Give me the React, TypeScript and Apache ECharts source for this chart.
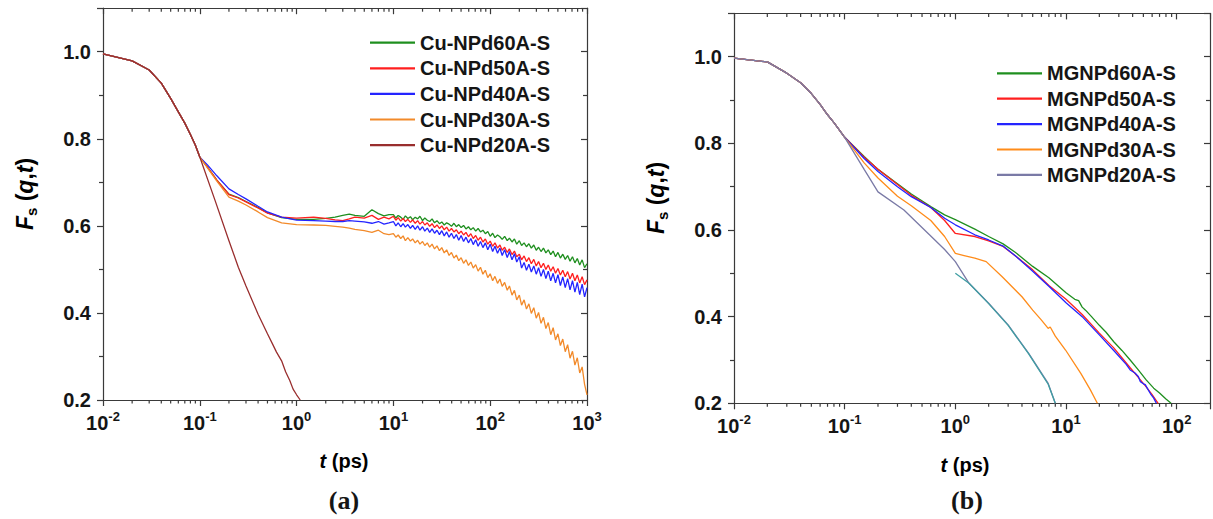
import React, { useEffect, useRef } from "react";
import * as echarts from "echarts";

// ---------- panel (a): Cu-NPd samples ----------
const tHeadA = [0.01, 0.02, 0.03, 0.04, 0.05, 0.06, 0.07, 0.08, 0.09];
const headA = [0.995, 0.979, 0.958, 0.928, 0.893, 0.862, 0.836, 0.81, 0.785];

const tMidA = [0.1, 0.12, 0.15, 0.2, 0.25, 0.3, 0.4, 0.5, 0.7, 1, 1.5, 2, 2.5, 3, 3.5, 4, 5, 6, 7, 8, 9];
const mid60A = [0.758, 0.735, 0.705, 0.673, 0.665, 0.656, 0.642, 0.63, 0.619, 0.615, 0.615, 0.617, 0.62, 0.624, 0.627, 0.624, 0.622, 0.637, 0.628, 0.623, 0.626];
const mid50A = [0.758, 0.735, 0.705, 0.672, 0.664, 0.655, 0.641, 0.629, 0.62, 0.618, 0.62, 0.617, 0.614, 0.612, 0.616, 0.62, 0.618, 0.624, 0.615, 0.62, 0.616];
const mid40A = [0.758, 0.74, 0.715, 0.685, 0.672, 0.662, 0.645, 0.632, 0.62, 0.613, 0.612, 0.611, 0.61, 0.61, 0.612, 0.611, 0.609, 0.606, 0.61, 0.604, 0.607];
const mid30A = [0.758, 0.733, 0.703, 0.666, 0.657, 0.648, 0.632, 0.619, 0.607, 0.603, 0.602, 0.601, 0.599, 0.597, 0.595, 0.592, 0.589, 0.585, 0.59, 0.582, 0.58];

// long-time, noisy part of the four slower curves (10 ps .. 1000 ps)
const tTailA = [10, 10.6, 11.2, 11.9, 12.6, 13.3, 14.1, 15, 15.8, 16.8, 17.8, 18.8, 20, 21.1, 22.4, 23.7, 25.1, 26.6, 28.2, 29.9, 31.6, 33.5, 35.5, 37.6, 39.8, 42.2, 44.7, 47.3, 50.1, 53.1, 56.2, 59.6, 63.1, 66.8, 70.8, 75, 79.4, 84.1, 89.1, 94.4, 100, 106, 112, 119, 126, 133, 141, 150, 158, 168, 178, 188, 200, 211, 224, 237, 251, 266, 282, 299, 316, 335, 355, 376, 398, 422, 447, 473, 501, 531, 562, 596, 631, 668, 708, 750, 794, 841, 891, 944, 1000];
const tail60A = [0.626, 0.618, 0.624, 0.62, 0.615, 0.623, 0.617, 0.621, 0.614, 0.62, 0.616, 0.622, 0.612, 0.618, 0.613, 0.61, 0.616, 0.607, 0.612, 0.605, 0.609, 0.602, 0.607, 0.604, 0.599, 0.606, 0.598, 0.603, 0.596, 0.601, 0.593, 0.598, 0.591, 0.596, 0.588, 0.594, 0.586, 0.59, 0.582, 0.587, 0.576, 0.583, 0.573, 0.579, 0.575, 0.569, 0.576, 0.566, 0.572, 0.563, 0.57, 0.558, 0.566, 0.555, 0.561, 0.552, 0.559, 0.549, 0.556, 0.544, 0.551, 0.541, 0.549, 0.538, 0.545, 0.534, 0.542, 0.529, 0.539, 0.526, 0.535, 0.523, 0.532, 0.519, 0.529, 0.515, 0.525, 0.51, 0.522, 0.504, 0.513];
const tail50A = [0.622, 0.613, 0.619, 0.611, 0.617, 0.61, 0.615, 0.608, 0.614, 0.606, 0.612, 0.604, 0.61, 0.602, 0.607, 0.599, 0.605, 0.596, 0.602, 0.594, 0.6, 0.591, 0.597, 0.588, 0.594, 0.586, 0.591, 0.582, 0.588, 0.579, 0.585, 0.575, 0.582, 0.571, 0.578, 0.567, 0.574, 0.563, 0.57, 0.558, 0.565, 0.553, 0.561, 0.549, 0.556, 0.544, 0.551, 0.539, 0.547, 0.534, 0.542, 0.529, 0.535, 0.522, 0.531, 0.518, 0.527, 0.513, 0.523, 0.508, 0.518, 0.504, 0.514, 0.5, 0.51, 0.496, 0.506, 0.491, 0.502, 0.487, 0.498, 0.483, 0.495, 0.478, 0.491, 0.474, 0.487, 0.469, 0.483, 0.465, 0.476];
const tail40A = [0.61, 0.6, 0.607, 0.598, 0.605, 0.597, 0.603, 0.594, 0.601, 0.592, 0.6, 0.59, 0.598, 0.588, 0.595, 0.585, 0.593, 0.583, 0.59, 0.58, 0.589, 0.577, 0.586, 0.574, 0.583, 0.571, 0.58, 0.567, 0.578, 0.564, 0.574, 0.561, 0.571, 0.557, 0.568, 0.553, 0.564, 0.55, 0.561, 0.545, 0.558, 0.541, 0.553, 0.537, 0.549, 0.532, 0.545, 0.527, 0.541, 0.522, 0.536, 0.517, 0.529, 0.503, 0.516, 0.498, 0.512, 0.494, 0.508, 0.489, 0.504, 0.484, 0.5, 0.479, 0.496, 0.474, 0.491, 0.469, 0.488, 0.463, 0.483, 0.458, 0.479, 0.453, 0.474, 0.448, 0.47, 0.442, 0.466, 0.437, 0.458];
const tail30A = [0.582, 0.574, 0.579, 0.571, 0.577, 0.566, 0.573, 0.565, 0.57, 0.561, 0.567, 0.558, 0.564, 0.555, 0.561, 0.551, 0.558, 0.547, 0.554, 0.543, 0.55, 0.538, 0.545, 0.532, 0.539, 0.526, 0.533, 0.52, 0.527, 0.514, 0.522, 0.509, 0.517, 0.503, 0.511, 0.496, 0.505, 0.489, 0.498, 0.481, 0.49, 0.474, 0.484, 0.468, 0.478, 0.461, 0.47, 0.452, 0.462, 0.441, 0.452, 0.43, 0.441, 0.418, 0.43, 0.409, 0.421, 0.399, 0.412, 0.388, 0.401, 0.376, 0.39, 0.364, 0.378, 0.35, 0.366, 0.338, 0.352, 0.325, 0.34, 0.311, 0.327, 0.296, 0.312, 0.28, 0.297, 0.262, 0.276, 0.236, 0.212];

const t20A = [0.1, 0.144, 0.2, 0.25, 0.3, 0.4, 0.5, 0.56, 0.62, 0.7, 0.77, 0.85, 0.92, 1.0, 1.09];
const v20A = [0.758, 0.658, 0.566, 0.505, 0.462, 0.397, 0.352, 0.33, 0.31, 0.29, 0.265, 0.245, 0.225, 0.212, 0.2];

const namesA = ["Cu-NPd60A-S", "Cu-NPd50A-S", "Cu-NPd40A-S", "Cu-NPd30A-S", "Cu-NPd20A-S"];

// ---------- panel (b): MGNPd samples ----------
const tHeadB = [0.01, 0.02, 0.03, 0.04, 0.05, 0.06, 0.07, 0.08, 0.09, 0.1];
const headB = [0.997, 0.988, 0.962, 0.94, 0.915, 0.89, 0.866, 0.848, 0.83, 0.814];

const tMidB = [0.15, 0.2, 0.3, 0.4, 0.6, 0.8, 1, 1.5, 2, 2.7, 3.5, 5, 7, 10];
const mid60B = [0.77, 0.74, 0.707, 0.683, 0.654, 0.635, 0.624, 0.602, 0.585, 0.568, 0.548, 0.516, 0.49, 0.455];
const mid50B = [0.768, 0.74, 0.705, 0.68, 0.652, 0.622, 0.592, 0.585, 0.575, 0.562, 0.54, 0.508, 0.472, 0.44];
const mid40B = [0.765, 0.735, 0.7, 0.677, 0.652, 0.627, 0.612, 0.589, 0.577, 0.563, 0.54, 0.505, 0.47, 0.432];

const tTail60B = [12, 13, 14, 15, 17, 20, 23, 27, 32, 38, 45, 53, 62, 70, 80, 89];
const tail60B = [0.44, 0.437, 0.422, 0.415, 0.4, 0.38, 0.364, 0.342, 0.322, 0.3, 0.277, 0.254, 0.235, 0.224, 0.21, 0.2];
const tTail50B = [14, 20, 27, 38, 45, 53, 60, 68];
const tail50B = [0.405, 0.362, 0.328, 0.282, 0.26, 0.238, 0.22, 0.2];
const tTail40B = [14, 20, 27, 35, 38, 42, 45, 47, 50, 52, 55, 58, 62, 65.5];
const tail40B = [0.4, 0.358, 0.322, 0.29, 0.277, 0.27, 0.262, 0.25, 0.245, 0.243, 0.232, 0.222, 0.212, 0.2];

const t30B = [0.15, 0.2, 0.3, 0.4, 0.6, 0.8, 1, 1.2, 1.5, 1.9, 2.65, 4, 5, 6, 6.9, 7.2, 8, 9.9, 13.6, 16.6, 19.2];
const v30B = [0.755, 0.72, 0.678, 0.656, 0.622, 0.585, 0.546, 0.541, 0.535, 0.527, 0.492, 0.446, 0.415, 0.392, 0.373, 0.376, 0.355, 0.323, 0.269, 0.231, 0.2];
const t20B = [0.15, 0.2, 0.343, 0.59, 0.8, 1, 1.33, 2, 3, 4.6, 6.9, 8];
const v20B = [0.74, 0.688, 0.646, 0.588, 0.555, 0.527, 0.477, 0.431, 0.381, 0.315, 0.246, 0.2];
const t20BLong = [1, 1.33, 2, 3, 4.6, 6.9, 8];
const v20BLong = [0.5, 0.477, 0.43, 0.38, 0.314, 0.244, 0.2];

const namesB = ["MGNPd60A-S", "MGNPd50A-S", "MGNPd40A-S", "MGNPd30A-S", "MGNPd20A-S"];

// minor log ticks (2..9 within each decade)
const minorA = [0.02, 0.03, 0.04, 0.05, 0.06, 0.07, 0.08, 0.09, 0.2, 0.3, 0.4, 0.5, 0.6, 0.7, 0.8, 0.9, 2, 3, 4, 5, 6, 7, 8, 9, 20, 30, 40, 50, 60, 70, 80, 90, 200, 300, 400, 500, 600, 700, 800, 900];
const minorB = [0.02, 0.03, 0.04, 0.05, 0.06, 0.07, 0.08, 0.09, 0.2, 0.3, 0.4, 0.5, 0.6, 0.7, 0.8, 0.9, 2, 3, 4, 5, 6, 7, 8, 9, 20, 30, 40, 50, 60, 70, 80, 90];

const FONT = '"Liberation Sans", Arial, Helvetica, sans-serif';
const SERIF = '"Liberation Serif", "Times New Roman", serif';
const AXIS = "#3a3a3a";
const TXT = "#151515";

const C = {
  green: "#1f8f1f",
  red: "#ff1f1f",
  blue: "#2424ff",
  orange: "#f28a2a",
  brown: "#992e2e",
  orangeB: "#ff8c1a",
  purple: "#7a7aa6",
  teal: "#3f9ea3",
};

const pairs = (ts: number[], vs: number[]) => ts.map((t, i) => [t, vs[i]]);

const pow10Label = (v: number) => {
  const e = Math.log10(v);
  const r = Math.round(e);
  if (Math.abs(e - r) > 1e-6) return "";
  return `{b|10}{s|${r}}`;
};

const logLabelRich = {
  b: { fontFamily: FONT, fontWeight: "bold" as const, fontSize: 20, color: TXT, lineHeight: 26 },
  s: { fontFamily: FONT, fontWeight: "bold" as const, fontSize: 13, color: TXT, lineHeight: 14, verticalAlign: "top" as const },
};

function xAxes(grid: number, max: number) {
  return [
    {
      type: "log",
      logBase: 10,
      gridIndex: grid,
      position: "bottom",
      min: 0.01,
      max,
      axisLine: { show: true, onZero: false, lineStyle: { color: AXIS, width: 1.2 } },
      axisTick: { show: true, length: 6, lineStyle: { color: AXIS, width: 1.2 } },
      minorTick: { show: false },
      splitLine: { show: false },
      axisLabel: {
        margin: 10,
        formatter: pow10Label,
        rich: logLabelRich,
        showMaxLabel: true,
      },
    },
    {
      type: "log",
      logBase: 10,
      gridIndex: grid,
      position: "top",
      min: 0.01,
      max,
      axisLine: { show: true, onZero: false, lineStyle: { color: AXIS, width: 1.2 } },
      axisTick: { show: true, inside: true, length: 6, lineStyle: { color: AXIS, width: 1.2 } },
      minorTick: { show: false },
      splitLine: { show: false },
      axisLabel: { show: false },
    },
  ];
}

function yAxes(grid: number) {
  const common = {
    type: "value",
    gridIndex: grid,
    min: 0.2,
    max: 1.1,
    interval: 0.2,
    splitLine: { show: false },
    minorSplitLine: { show: false },
  };
  return [
    {
      ...common,
      position: "left",
      axisLine: { show: true, onZero: false, lineStyle: { color: AXIS, width: 1.2 } },
      axisTick: { show: true, length: 6, lineStyle: { color: AXIS, width: 1.2 } },
      minorTick: { show: true, splitNumber: 2, length: 4, lineStyle: { color: AXIS, width: 1.2 } },
      axisLabel: {
        margin: 12,
        showMaxLabel: false,
        formatter: (v: number) => v.toFixed(1),
        fontFamily: FONT,
        fontWeight: "bold",
        fontSize: 20,
        color: TXT,
      },
    },
    {
      ...common,
      position: "right",
      axisLine: { show: true, onZero: false, lineStyle: { color: AXIS, width: 1.2 } },
      axisTick: { show: true, inside: true, length: 6, lineStyle: { color: AXIS, width: 1.2 } },
      minorTick: { show: true, splitNumber: 2, length: 4, lineStyle: { color: AXIS, width: 1.2 } },
      axisLabel: { show: false },
    },
  ];
}

function line(name: string, data: number[][], color: string, xi: number, yi: number) {
  return {
    type: "line",
    name,
    data,
    xAxisIndex: xi,
    yAxisIndex: yi,
    symbol: "none",
    showSymbol: false,
    silent: true,
    clip: true,
    lineStyle: { color, width: 1.3 },
    itemStyle: { color },
  };
}

function minorTicks(vals: number[], xi: number, yi: number) {
  return {
    type: "custom",
    name: "minor-ticks",
    xAxisIndex: xi,
    yAxisIndex: yi,
    silent: true,
    data: vals.map((v) => [v, 0.2]),
    renderItem: (params: any, api: any) => {
      const cs = params.coordSys;
      const p = api.coord([api.value(0), api.value(1)]);
      const bottom = cs.y + cs.height;
      const st = { stroke: AXIS, lineWidth: 1.2 };
      return {
        type: "group",
        children: [
          { type: "line", shape: { x1: p[0], y1: bottom, x2: p[0], y2: bottom + 3.5 }, style: st },
          { type: "line", shape: { x1: p[0], y1: cs.y, x2: p[0], y2: cs.y + 3.5 }, style: st },
        ],
      };
    },
  };
}

const yTitleRich = {
  it: { fontFamily: FONT, fontWeight: "bold" as const, fontStyle: "italic" as const, fontSize: 23, color: TXT, lineHeight: 28 },
  n: { fontFamily: FONT, fontWeight: "bold" as const, fontSize: 23, color: TXT, lineHeight: 28 },
  sub: { fontFamily: FONT, fontWeight: "bold" as const, fontSize: 15, color: TXT, lineHeight: 17, verticalAlign: "bottom" as const },
};
const xTitleRich = {
  it: { fontFamily: FONT, fontWeight: "bold" as const, fontStyle: "italic" as const, fontSize: 20, color: TXT },
  n: { fontFamily: FONT, fontWeight: "bold" as const, fontSize: 20, color: TXT },
};

function legend(names: string[], left: number, top: number, gap: number) {
  return {
    data: names,
    left,
    top,
    padding: 0,
    orient: "vertical",
    icon: "rect",
    itemWidth: 45,
    itemHeight: 2.2,
    itemGap: gap,
    selectedMode: false,
    textStyle: { fontFamily: FONT, fontWeight: "bold", fontSize: 20, color: TXT, lineHeight: 22 },
  };
}

export default function App() {
  const ref = useRef<HTMLDivElement>(null);

  useEffect(() => {
    if (!ref.current) return;
    const chart = echarts.init(ref.current, undefined, { renderer: "svg" });

    const series = [
      line(namesA[0], [...pairs(tHeadA, headA), ...pairs(tMidA, mid60A), ...pairs(tTailA, tail60A)], C.green, 0, 0),
      line(namesA[1], [...pairs(tHeadA, headA), ...pairs(tMidA, mid50A), ...pairs(tTailA, tail50A)], C.red, 0, 0),
      line(namesA[2], [...pairs(tHeadA, headA), ...pairs(tMidA, mid40A), ...pairs(tTailA, tail40A)], C.blue, 0, 0),
      line(namesA[3], [...pairs(tHeadA, headA), ...pairs(tMidA, mid30A), ...pairs(tTailA, tail30A)], C.orange, 0, 0),
      line(namesA[4], [...pairs(tHeadA, headA), ...pairs(t20A, v20A)], C.brown, 0, 0),
      minorTicks(minorA, 0, 0),

      line(namesB[0], [...pairs(tHeadB, headB), ...pairs(tMidB, mid60B), ...pairs(tTail60B, tail60B)], C.green, 2, 2),
      line(namesB[1], [...pairs(tHeadB, headB), ...pairs(tMidB, mid50B), ...pairs(tTail50B, tail50B)], C.red, 2, 2),
      line(namesB[2], [...pairs(tHeadB, headB), ...pairs(tMidB, mid40B), ...pairs(tTail40B, tail40B)], C.blue, 2, 2),
      line(namesB[3], [...pairs(tHeadB, headB), ...pairs(t30B, v30B)], C.orangeB, 2, 2),
      line(namesB[4], [...pairs(tHeadB, headB), ...pairs(t20B, v20B)], C.purple, 2, 2),
      line("MGNPd20A-S long run", pairs(t20BLong, v20BLong), C.teal, 2, 2),
      minorTicks(minorB, 2, 2),
    ];

    chart.setOption({
      animation: false,
      backgroundColor: "#ffffff",
      grid: [
        { left: 103, right: 626, top: 8.2, bottom: 119 },
        { left: 734, right: -5, top: 13.4, bottom: 115.7 },
      ],
      xAxis: [...xAxes(0, 1000), ...xAxes(1, 200)],
      yAxis: [...yAxes(0), ...yAxes(1)],
      legend: [legend(namesA, 370, 31.7, 3.6), legend(namesB, 997, 62.3, 3.4)],
      series,
      graphic: [
        {
          type: "text",
          x: 25,
          y: 194,
          rotation: Math.PI / 2,
          style: { text: "{it|F}{sub|s}{n| (}{it|q}{n|,}{it|t}{n|)}", rich: yTitleRich, align: "center", verticalAlign: "middle" },
        },
        {
          type: "text",
          x: 656,
          y: 198,
          rotation: Math.PI / 2,
          style: { text: "{it|F}{sub|s}{n| (}{it|q}{n|,}{it|t}{n|)}", rich: yTitleRich, align: "center", verticalAlign: "middle" },
        },
        {
          type: "text",
          x: 344,
          y: 461,
          style: { text: "{it|t}{n| (ps)}", rich: xTitleRich, align: "center", verticalAlign: "middle" },
        },
        {
          type: "text",
          x: 965,
          y: 465,
          style: { text: "{it|t}{n| (ps)}", rich: xTitleRich, align: "center", verticalAlign: "middle" },
        },
        {
          type: "text",
          x: 344,
          y: 500,
          style: { text: "(a)", font: `bold 26px ${SERIF}`, fill: TXT, align: "center", verticalAlign: "middle" },
        },
        {
          type: "text",
          x: 967,
          y: 500,
          style: { text: "(b)", font: `bold 26px ${SERIF}`, fill: TXT, align: "center", verticalAlign: "middle" },
        },
      ],
    });

    return () => chart.dispose();
  }, []);

  return (
    <div
      ref={ref}
      style={{ position: "absolute", left: 0, top: 0, width: 1213, height: 519, background: "#fff" }}
    />
  );
}
